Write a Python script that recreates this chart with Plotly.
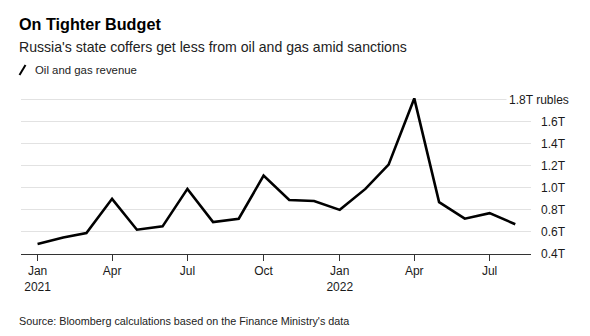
import plotly.graph_objects as go

# ---- data ----
months = ["2021-01-01", "2021-02-01", "2021-03-01", "2021-04-01", "2021-05-01", "2021-06-01",
          "2021-07-01", "2021-08-01", "2021-09-01", "2021-10-01", "2021-11-01", "2021-12-01",
          "2022-01-01", "2022-02-01", "2022-03-01", "2022-04-01", "2022-05-01", "2022-06-01",
          "2022-07-01", "2022-08-01"]
revenue = [0.49, 0.55, 0.59, 0.90, 0.62, 0.65, 0.99, 0.69, 0.72, 1.11, 0.89, 0.88,
           0.80, 0.99, 1.21, 1.81, 0.87, 0.72, 0.77, 0.67]  # trillion rubles
x_tickvals = ["2021-01-01", "2021-04-01", "2021-07-01", "2021-10-01",
              "2022-01-01", "2022-04-01", "2022-07-01"]
x_ticktext = ["Jan<br>2021", "Apr", "Jul", "Oct", "Jan<br>2022", "Apr", "Jul"]
y_tickvals = [0.4, 0.6, 0.8, 1.0, 1.2, 1.4, 1.6, 1.8]
y_ticktext = ["0.4T", "0.6T", "0.8T", "1.0T", "1.2T", "1.4T", "1.6T", ""]
top_label = "1.8T rubles"

# ---- layout geometry (pixels) ----
W, H = 590, 336
ML, MR, MT, MB = 21, 59, 94, 82
PW, PH = W - ML - MR, H - MT - MB

def px(x):
    return (x - ML) / PW

def py(y):
    return (H - MB - y) / PH

FONT = "Liberation Sans, Arial, Helvetica, sans-serif"

fig = go.Figure()
fig.add_trace(go.Scatter(
    x=months, y=revenue, mode="lines",
    line=dict(color="#000000", width=2.6),
    name="Oil and gas revenue", showlegend=False,
    hoverinfo="skip",
))

fig.update_layout(
    width=W, height=H,
    margin=dict(l=ML, r=MR, t=MT, b=MB, pad=0),
    paper_bgcolor="white", plot_bgcolor="white",
    font=dict(family=FONT, color="#1a1a1a", size=12),
    xaxis=dict(
        type="date",
        range=["2020-12-12", "2022-08-20"],
        tickvals=x_tickvals, ticktext=x_ticktext,
        showgrid=False, zeroline=False,
        showline=True, linecolor="#333333", linewidth=1,
        ticks="outside", ticklen=6, tickcolor="#333333", tickwidth=1,
        tickfont=dict(size=12, color="#1a1a1a"),
        fixedrange=True,
    ),
    yaxis=dict(
        side="right",
        range=[0.4, 1.85],
        tickvals=y_tickvals, ticktext=y_ticktext,
        showgrid=True, gridcolor="#e2e2e2", gridwidth=1,
        zeroline=False, showline=False, ticks="",
        ticklabelstandoff=9,
        tickfont=dict(size=12, color="#1a1a1a"),
        fixedrange=True,
    ),
    annotations=[
        dict(text="<b>On Tighter Budget</b>", xref="paper", yref="paper",
             x=px(17), y=py(24), xanchor="left", yanchor="middle",
             showarrow=False, font=dict(size=16.2, color="#000000")),
        dict(text="Russia's state coffers get less from oil and gas amid sanctions",
             xref="paper", yref="paper", x=px(17), y=py(47),
             xanchor="left", yanchor="middle", showarrow=False,
             font=dict(size=14.1, color="#222222")),
        dict(text="Oil and gas revenue", xref="paper", yref="paper",
             x=px(33), y=py(70), xanchor="left", yanchor="middle",
             showarrow=False, font=dict(size=11.4, color="#222222")),
        dict(text=top_label, xref="paper", yref="y",
             x=px(572), y=1.8, xanchor="right", yanchor="middle",
             showarrow=False, bgcolor="white", borderpad=2,
             font=dict(size=12, color="#1a1a1a")),
        dict(text="Source: Bloomberg calculations based on the Finance Ministry's data",
             xref="paper", yref="paper", x=px(17), y=py(321),
             xanchor="left", yanchor="middle", showarrow=False,
             font=dict(size=10.8, color="#222222")),
    ],
    shapes=[
        dict(type="line", xref="paper", yref="paper",
             x0=px(19.5), y0=py(75), x1=px(25.5), y1=py(65),
             line=dict(color="#000000", width=2)),
    ],
)

fig.write_html("out.html")
